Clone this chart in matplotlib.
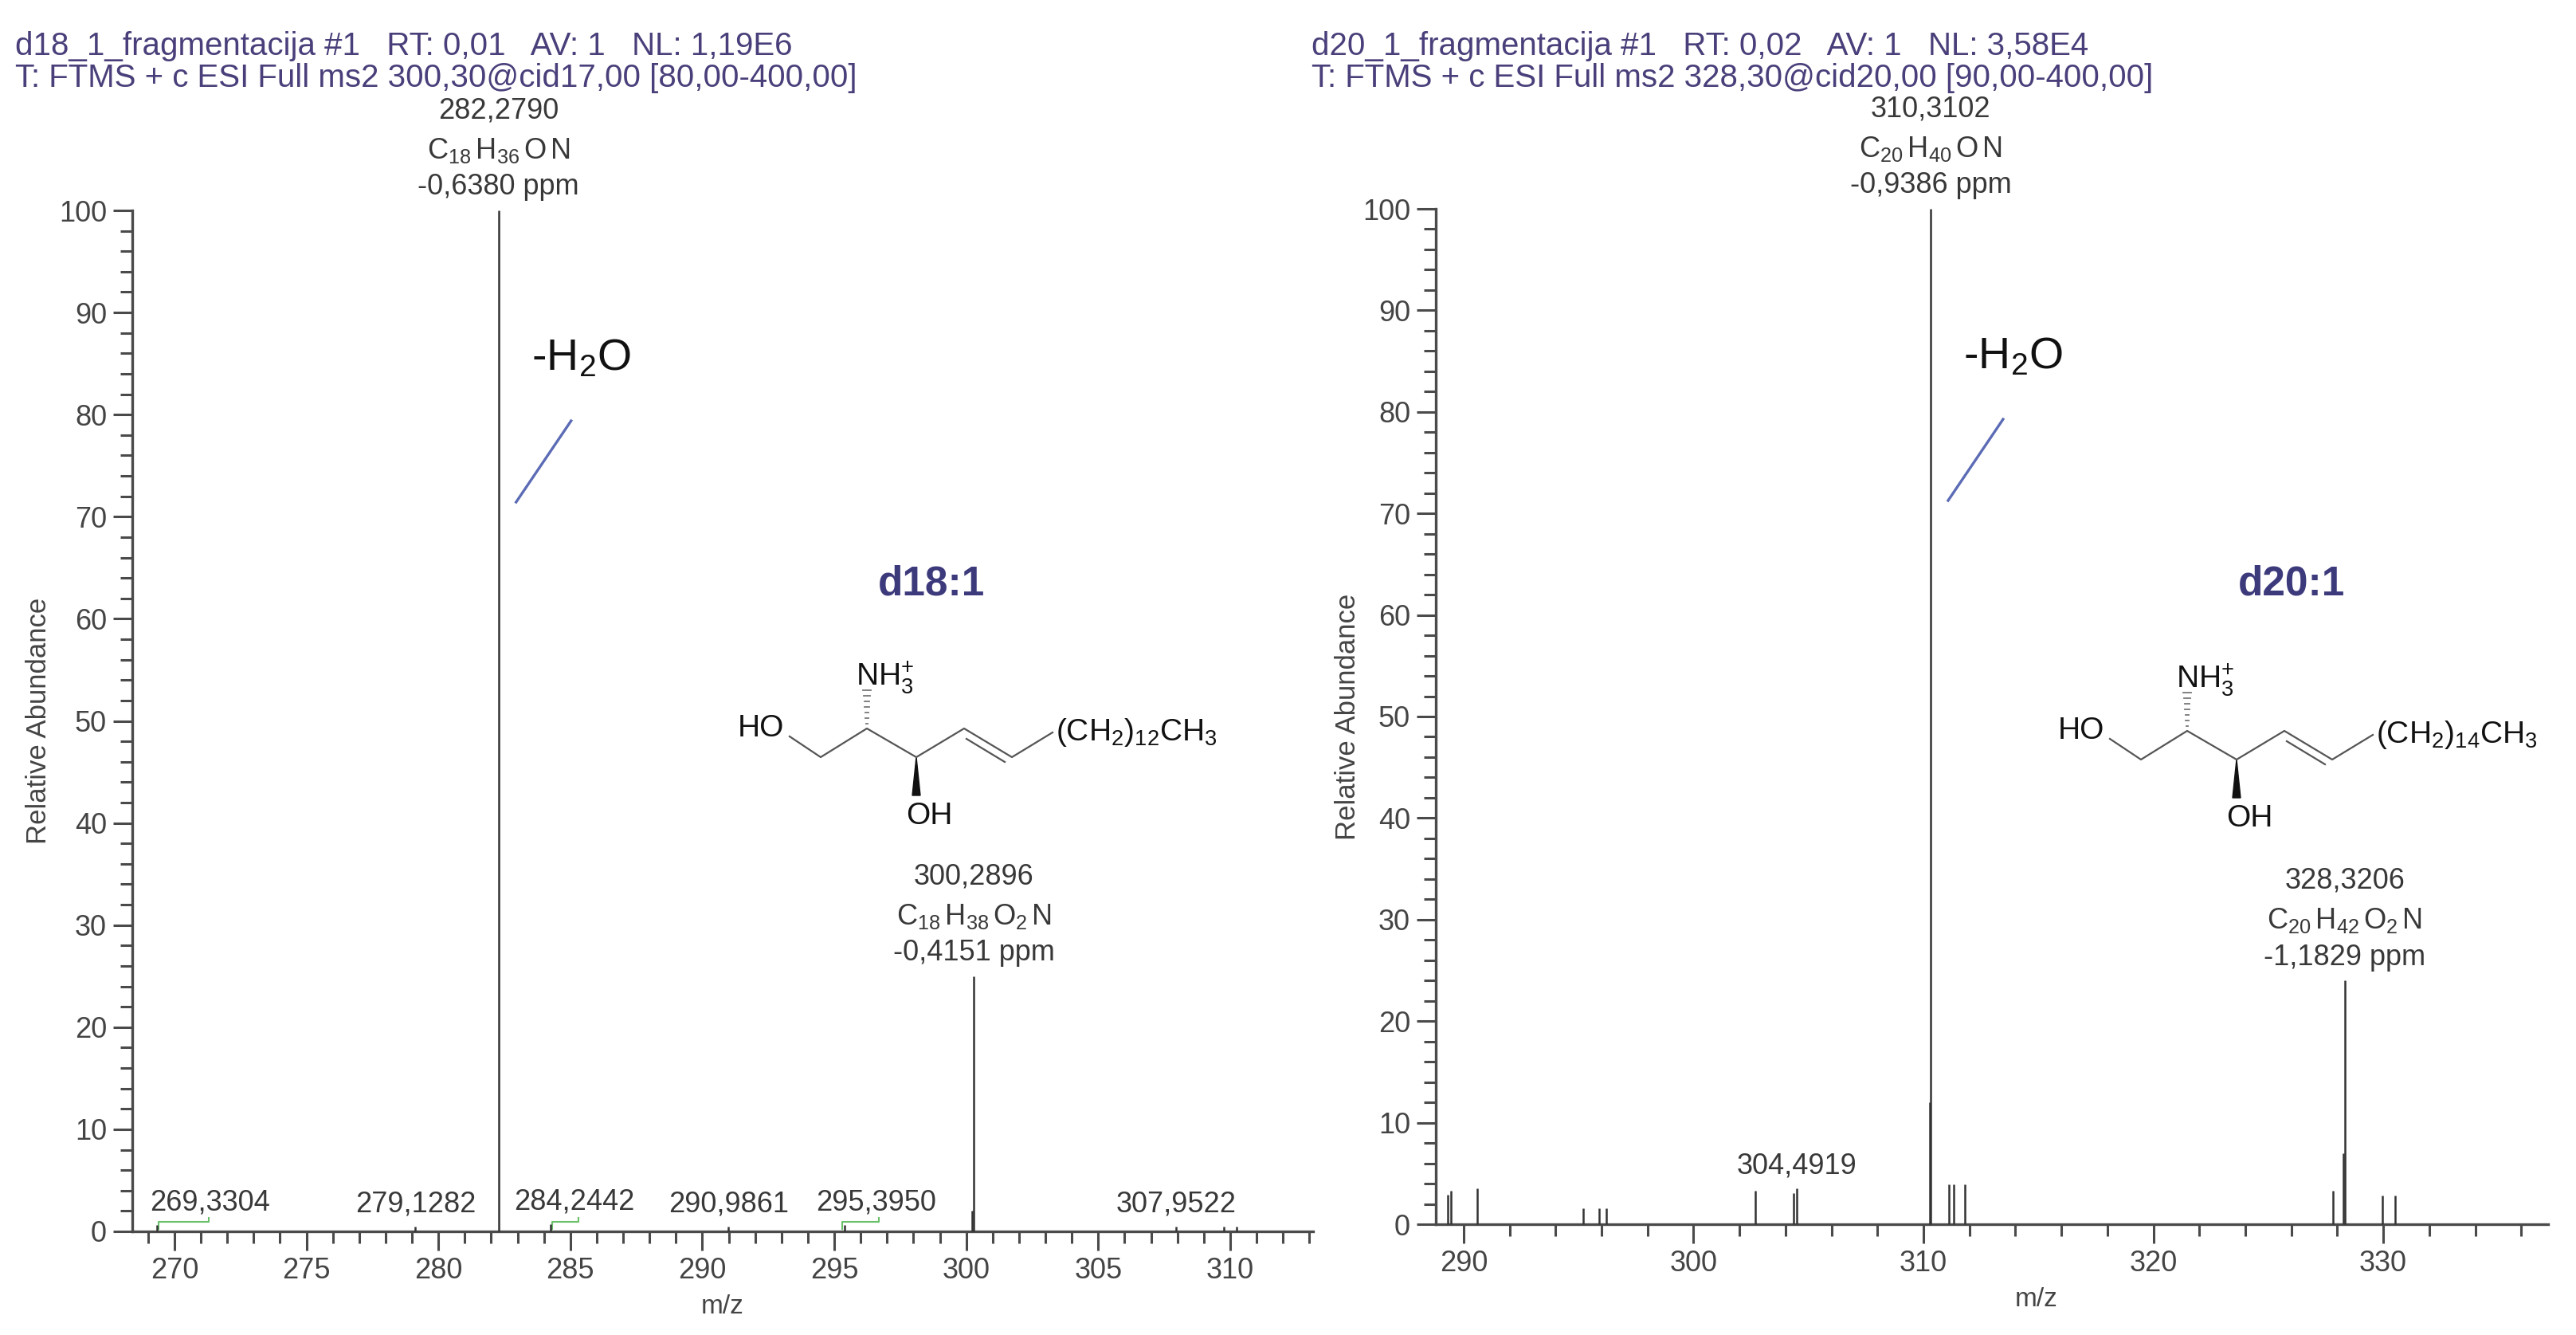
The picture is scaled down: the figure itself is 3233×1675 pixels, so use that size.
import matplotlib
matplotlib.use('Agg')
import matplotlib.pyplot as plt
from matplotlib.patches import Polygon
from matplotlib.ticker import MultipleLocator

plt.rcParams['font.family'] = ['Liberation Sans', 'DejaVu Sans']
plt.rcParams['mathtext.fontset'] = 'custom'
plt.rcParams['mathtext.rm'] = 'Liberation Sans'
plt.rcParams['mathtext.it'] = 'Liberation Sans:italic'
plt.rcParams['mathtext.bf'] = 'Liberation Sans:bold'

W, H = 3233, 1675

# --- d18:1, ms2 of 300,30 ---
mz_d18 = [269.33, 279.13, 282.279, 284.24, 290.99, 295.40, 300.21, 300.2896, 307.95, 309.77, 310.25]
int_d18 = [0.6, 0.5, 100, 0.7, 0.5, 0.6, 2.0, 25, 0.5, 0.5, 0.5]
noise_d18 = [(269.4, 271.3), (284.3, 285.3), (295.3, 296.7)]
small_lab_d18 = [269.3304, 279.1282, 284.2442, 290.9861, 295.3950, 307.9522]
big_lab_d18 = [282.2790, 300.2896]
formula_d18 = [r'C_{18}\,H_{36}\,O\,N', r'C_{18}\,H_{38}\,O_{2}\,N']
ppm_d18 = ['-0,6380', '-0,4151']
header_d18 = ['d18_1_fragmentacija #1   RT: 0,01   AV: 1   NL: 1,19E6',
              'T: FTMS + c ESI Full ms2 300,30@cid17,00 [80,00-400,00]']

# --- d20:1, ms2 of 328,30 ---
mz_d20 = [289.30, 289.45, 290.60, 295.20, 295.90, 296.20, 302.70, 304.35, 304.4919,
          310.26, 310.3102, 311.10, 311.30, 311.80, 327.80, 328.27, 328.3206, 329.95, 330.50]
int_d20 = [2.9, 3.3, 3.5, 1.6, 1.6, 1.6, 3.3, 3.1, 3.5,
           12, 100, 3.9, 3.9, 3.9, 3.3, 7.0, 24, 2.8, 2.8]
small_lab_d20 = [304.4919]
big_lab_d20 = [310.3102, 328.3206]
formula_d20 = [r'C_{20}\,H_{40}\,O\,N', r'C_{20}\,H_{42}\,O_{2}\,N']
ppm_d20 = ['-0,9386', '-1,1829']
header_d20 = ['d20_1_fragmentacija #1   RT: 0,02   AV: 1   NL: 3,58E4',
              'T: FTMS + c ESI Full ms2 328,30@cid20,00 [90,00-400,00]']

HEAD_COL = '#4a3f7a'
TXT_COL = '#383838'
AX_COL = '#4a4a4a'


def fmt(v):
    return f'{v:.4f}'.replace('.', ',')


def px_rect(x0, x1, ybot, ytop):
    return [x0 / W, (H - ybot) / H, (x1 - x0) / W, (ybot - ytop) / H]


def draw_panel(rect, xlim, major, minor, mz, inten, small_lab, lab_shift,
               big_lab, formulas, ppms, xlab_x):
    ax = fig.add_axes(rect)
    ax.set_xlim(*xlim)
    ax.set_ylim(0, 100)
    ax.vlines(mz, 0, inten, color='#333333', lw=1.8, clip_on=False, zorder=3)
    for sp in ['top', 'right']:
        ax.spines[sp].set_visible(False)
    for sp in ['left', 'bottom']:
        ax.spines[sp].set_color(AX_COL)
        ax.spines[sp].set_linewidth(2.4)
    ax.xaxis.set_major_locator(MultipleLocator(major))
    ax.xaxis.set_minor_locator(MultipleLocator(minor))
    ax.yaxis.set_major_locator(MultipleLocator(10))
    ax.yaxis.set_minor_locator(MultipleLocator(2))
    ax.tick_params(which='major', length=17, width=2.2, color=AX_COL,
                   labelsize=26, labelcolor='#444444', pad=6)
    ax.tick_params(which='minor', length=11, width=2.2, color=AX_COL)
    ax.set_xlabel('m/z', fontsize=24, color='#444444')
    ax.xaxis.label.set_va('center')
    ax.xaxis.set_label_coords(xlab_x, -0.074)
    ax.set_ylabel('Relative Abundance', fontsize=25, color='#444444')
    ax.yaxis.label.set_va('center')
    ax.yaxis.set_label_coords(-0.079, 0.5)

    for m, dx in zip(small_lab, lab_shift):
        i = min(range(len(mz)), key=lambda k: abs(mz[k] - m))
        ax.annotate(fmt(m), (m + dx, inten[i]), xytext=(0, 28),
                    textcoords='offset pixels', ha='center', va='center',
                    fontsize=26, color=TXT_COL, annotation_clip=False)
    for m, f, p in zip(big_lab, formulas, ppms):
        i = min(range(len(mz)), key=lambda k: abs(mz[k] - m))
        for txt, off in [(fmt(m), 125), ('$\\mathregular{' + f + '}$', 75), (p + ' ppm', 29)]:
            ax.annotate(txt, (m, inten[i]), xytext=(0, off),
                        textcoords='offset pixels', ha='center', va='center',
                        fontsize=26, color=TXT_COL, annotation_clip=False)
    return ax


def to_px(ax, x, y):
    dx, dy = ax.transData.transform((x, y))
    return dx, H - dy


def molecule(ov, x0, y0, chain):
    pts = [(36, 10), (75, 36), (133, 0), (195, 36), (255, 0), (315, 36), (366, 5)]
    ov.plot([x0 + a for a, b in pts], [y0 + b for a, b in pts], color='#555555', lw=1.6)
    # inner line of the trans double bond
    ov.plot([x0 + 258, x0 + 306], [y0 + 13, y0 + 42], color='#555555', lw=1.6)
    ov.text(x0, y0, 'HO', ha='center', va='center', fontsize=28, color='#111111')
    ov.text(x0 + 370, y0 + 5, chain, ha='left', va='center', fontsize=28, color='#111111')
    ov.text(x0 + 119, y0 - 64, r'$\mathregular{NH_3^{+}}$', ha='left', va='center',
            fontsize=28, color='#111111')
    ov.text(x0 + 211, y0 + 110, 'OH', ha='center', va='center', fontsize=28, color='#111111')
    # wedge to OH
    ov.add_patch(Polygon([(x0 + 195, y0 + 36), (x0 + 190, y0 + 84), (x0 + 200, y0 + 84)],
                         closed=True, color='#111111'))
    # hashed bond to NH3+
    for k in range(7):
        yy = y0 - 6 - k * 7
        hw = 1 + k * 0.6
        ov.plot([x0 + 133 - hw, x0 + 133 + hw], [yy, yy], color='#777777', lw=1.3)


fig = plt.figure(figsize=(W / 100, H / 100), dpi=100)

ax1 = draw_panel(px_rect(166, 1648, 1545, 264), (268.40, 313.14), 5, 1,
                 mz_d18, int_d18, small_lab_d18, [2.0, 0, 0.9, 0, 1.2, 0],
                 big_lab_d18, formula_d18, ppm_d18, 0.5)
for a, b in noise_d18:
    ax1.plot([a, a, b, b], [0.2, 0.9, 0.9, 1.3], color='#6abf69', lw=1.5, zorder=2)

ax2 = draw_panel(px_rect(1802, 3198, 1536, 262), (288.79, 337.17), 10, 2,
                 mz_d20, int_d20, small_lab_d20, [0],
                 big_lab_d20, formula_d20, ppm_d20, 0.54)

ov = fig.add_axes([0, 0, 1, 1], zorder=10)
ov.set_xlim(0, W)
ov.set_ylim(H, 0)
ov.axis('off')
ov.patch.set_alpha(0)

# headers
for x, lines in [(19, header_d18), (1646, header_d20)]:
    ov.text(x, 58, lines[0], fontsize=29, color=HEAD_COL, va='center', ha='left')
    ov.text(x, 98, lines[1], fontsize=29, color=HEAD_COL, va='center', ha='left')

# water loss marks next to the base peaks
for ax, m in [(ax1, big_lab_d18[0]), (ax2, big_lab_d20[0])]:
    px, top = to_px(ax, m, 100)
    ov.text(px + 41, top + 186, r'-H$_2$O', fontsize=40, color='#111111',
            ha='left', va='center')
    ov.plot([px + 22, px + 91], [top + 366, top + 264], color='#5b6bb5', lw=2.4)

ov.text(1169, 733, 'd18:1', fontsize=37, fontweight='bold', color='#3d3a7c',
        ha='center', va='center')
ov.text(2876, 733, 'd20:1', fontsize=37, fontweight='bold', color='#3d3a7c',
        ha='center', va='center')
molecule(ov, 955, 914, r'$\mathregular{(CH_2)_{12}CH_3}$')
molecule(ov, 2612, 917, r'$\mathregular{(CH_2)_{14}CH_3}$')

fig.savefig('out.png', dpi=100, facecolor='white')
